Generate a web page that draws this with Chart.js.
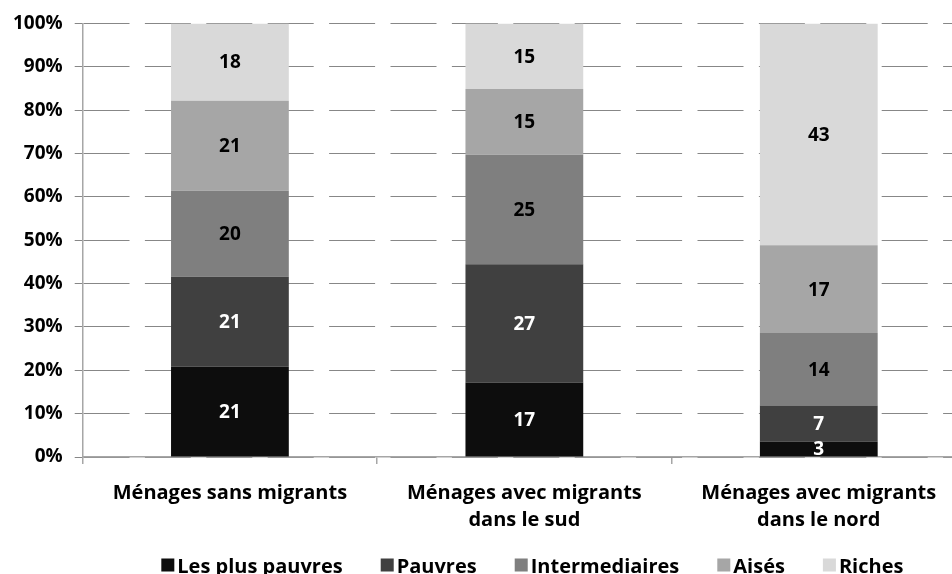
<!DOCTYPE html>
<html><head><meta charset="utf-8">
<script src="https://cdn.jsdelivr.net/npm/chart.js@4/dist/chart.umd.min.js"></script>
<style>
html,body{margin:0;padding:0;overflow:hidden;background:#fff;width:952px;height:574px}
#wrap{width:966px;height:574px;position:relative}
</style></head>
<body><div id="wrap"><canvas id="c"></canvas></div>
<script>
const categories = [["Ménages sans migrants"], ["Ménages avec migrants", "dans le sud"], ["Ménages avec migrants", "dans le nord"]];
const seriesNames = ["Les plus pauvres", "Pauvres", "Intermediaires", "Aisés", "Riches"];
const lesPlusPauvres = [21, 17, 3];
const pauvres = [21, 27, 7];
const intermediaires = [20, 25, 14];
const aises = [21, 15, 17];
const riches = [18, 15, 43];
const yTickValues = [0, 10, 20, 30, 40, 50, 60, 70, 80, 90, 100];

const seriesValues = [lesPlusPauvres, pauvres, intermediaires, aises, riches];
const seriesColors = ["#0d0d0d", "#404040", "#7f7f7f", "#a6a6a6", "#d9d9d9"];
const labelColors = ["#ffffff", "#ffffff", "#000000", "#000000", "#000000"];
const totals = categories.map((_, i) => seriesValues.reduce((s, arr) => s + arr[i], 0));

const FONT = "'Open Sans', 'DejaVu Sans', sans-serif";

const datasets = seriesNames.map((name, k) => ({
  label: name,
  data: seriesValues[k].map((v, i) => v / totals[i] * 100),
  raw: seriesValues[k],
  backgroundColor: seriesColors[k],
  borderWidth: 0,
  categoryPercentage: 1,
  barPercentage: 0.4
}));

const valueLabels = {
  id: 'valueLabels',
  afterDatasetsDraw(chart) {
    const ctx = chart.ctx;
    ctx.save();
    ctx.font = "bold 19px " + FONT;
    ctx.textAlign = 'center';
    ctx.textBaseline = 'middle';
    chart.data.datasets.forEach((ds, k) => {
      const meta = chart.getDatasetMeta(k);
      meta.data.forEach((el, i) => {
        ctx.fillStyle = labelColors[k];
        ctx.fillText(String(ds.raw[i]), el.x, (el.y + el.base) / 2 + 1);
      });
    });
    ctx.restore();
  }
};

const customLegend = {
  id: 'customLegend',
  afterDraw(chart) {
    const ctx = chart.ctx;
    ctx.save();
    ctx.font = "bold 20px " + FONT;
    const box = 13, gap = 3, spacing = 38;
    const widths = chart.data.datasets.map(ds => box + gap + ctx.measureText(ds.label).width);
    const total = widths.reduce((a, b) => a + b, 0) + spacing * (widths.length - 1);
    const ca = chart.chartArea;
    let x = (ca.left + ca.right) / 2 + 8 - total / 2;
    const baseline = chart.height - 1.5;
    ctx.textBaseline = 'alphabetic';
    ctx.textAlign = 'left';
    chart.data.datasets.forEach((ds, k) => {
      ctx.fillStyle = ds.backgroundColor;
      ctx.fillRect(x, baseline - 14, box, box);
      ctx.fillStyle = '#000';
      ctx.fillText(ds.label, x + box + gap, baseline);
      x += widths[k] + spacing;
    });
    ctx.restore();
  }
};

new Chart(document.getElementById('c'), {
  type: 'bar',
  data: { labels: categories, datasets },
  plugins: [valueLabels, customLegend],
  options: {
    responsive: true,
    maintainAspectRatio: false,
    animation: false,
    layout: { padding: { top: 20, right: 0, left: 1, bottom: 24 } },
    plugins: {
      legend: { display: false },
      tooltip: { enabled: false }
    },
    scales: {
      x: {
        stacked: true,
        offset: true,
        border: { display: true, color: '#a6a6a6', width: 1.5 },
        grid: { offset: true, drawOnChartArea: false, drawTicks: true, tickLength: 7, color: '#a6a6a6', lineWidth: 1.5 },
        ticks: { color: '#000', font: { family: FONT, size: 20, weight: 'bold', lineHeight: 1.35 }, padding: 16, maxRotation: 0, autoSkip: false }
      },
      y: {
        stacked: true,
        min: 0, max: 100,
        afterBuildTicks(axis) { axis.ticks = yTickValues.map(v => ({ value: v })); },
        border: { display: true, color: '#a6a6a6', width: 1.5, dash: [46, 15.4] },
        grid: { color: '#878787', lineWidth: 1, tickLength: 8, tickColor: '#878787' },
        ticks: { color: '#000', font: { family: FONT, size: 19, weight: 'bold' }, padding: 12, callback: v => v + '%' }
      }
    }
  }
});
</script></body></html>
